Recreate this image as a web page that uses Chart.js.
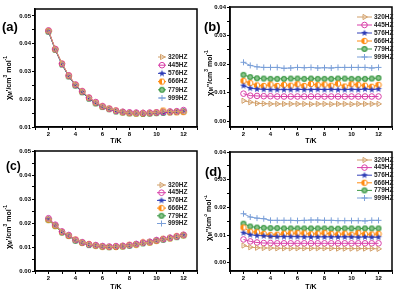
<!DOCTYPE html>
<html>
<head>
<meta charset="utf-8">
<script src="https://cdn.jsdelivr.net/npm/chart.js@4.4.0/dist/chart.umd.min.js"></script>
<style>
  body { margin: 0; background: #fff; width: 409px; height: 291px; overflow: hidden; position: relative; }
  canvas { position: absolute; }
</style>
</head>
<body>
<canvas id="pa" width="204" height="145" style="left:0;top:0"></canvas>
<canvas id="pb" width="205" height="145" style="left:204px;top:0"></canvas>
<canvas id="pc" width="204" height="146" style="left:0;top:145px"></canvas>
<canvas id="pd" width="205" height="146" style="left:204px;top:145px"></canvas>
<script>
// temperatures (K) and frequency labels
const temps = [2, 2.5, 3, 3.5, 4, 4.5, 5, 5.5, 6, 6.5, 7, 7.5, 8, 8.5, 9, 9.5, 10, 10.5, 11, 11.5, 12];
const freqs = ['320HZ', '445HZ', '576HZ', '666HZ', '779HZ', '999HZ'];

// (a) chi' 
const a320 = [0.0447,0.0381,0.0329,0.0285,0.0252,0.0228,0.0205,0.0188,0.0174,0.0166,0.0159,0.0154,0.0151,0.0150,0.0150,0.0151,0.0153,0.0158,0.0155,0.0156,0.0156];
const a445 = [0.0448,0.0381,0.0328,0.0286,0.0253,0.0229,0.0206,0.0190,0.0175,0.0166,0.0159,0.0155,0.0153,0.0152,0.0151,0.0152,0.0153,0.0154,0.0156,0.0157,0.0161];
const a576 = [0.0444,0.0379,0.0326,0.0283,0.0250,0.0226,0.0203,0.0186,0.0173,0.0165,0.0157,0.0154,0.0151,0.0150,0.0149,0.0150,0.0151,0.0152,0.0154,0.0155,0.0157];
const a666 = [0.0446,0.0380,0.0328,0.0285,0.0252,0.0228,0.0205,0.0188,0.0174,0.0166,0.0159,0.0153,0.0150,0.0149,0.0149,0.0150,0.0152,0.0159,0.0153,0.0153,0.0154];
const a779 = [0.0443,0.0378,0.0325,0.0282,0.0249,0.0225,0.0202,0.0185,0.0172,0.0164,0.0156,0.0152,0.0149,0.0148,0.0147,0.0148,0.0150,0.0151,0.0153,0.0154,0.0156];
const a999 = [0.0444,0.0379,0.0326,0.0283,0.0250,0.0226,0.0203,0.0186,0.0173,0.0165,0.0157,0.0153,0.0151,0.0150,0.0149,0.0149,0.0150,0.0151,0.0153,0.0155,0.0156];

// (b) chi''
const b320 = [0.0071,0.0066,0.0062,0.0061,0.0060,0.0060,0.0060,0.0060,0.0060,0.0060,0.0059,0.0060,0.0060,0.0059,0.0060,0.0060,0.0059,0.0060,0.0060,0.0060,0.0060];
const b445 = [0.0096,0.0089,0.0088,0.0087,0.0087,0.0086,0.0086,0.0086,0.0086,0.0086,0.0086,0.0086,0.0086,0.0086,0.0086,0.0086,0.0086,0.0086,0.0086,0.0086,0.0086];
const b576 = [0.0124,0.0115,0.0112,0.0111,0.0110,0.0110,0.0110,0.0110,0.0111,0.0110,0.0110,0.0111,0.0110,0.0111,0.0110,0.0110,0.0111,0.0110,0.0112,0.0110,0.0112];
const b666 = [0.0141,0.0133,0.0125,0.0123,0.0128,0.0123,0.0127,0.0124,0.0129,0.0123,0.0130,0.0126,0.0128,0.0124,0.0131,0.0121,0.0129,0.0127,0.0124,0.0120,0.0127];
const b779 = [0.0162,0.0154,0.0150,0.0149,0.0148,0.0148,0.0148,0.0149,0.0149,0.0148,0.0149,0.0148,0.0148,0.0148,0.0149,0.0149,0.0148,0.0148,0.0148,0.0149,0.0151];
const b999 = [0.0206,0.0195,0.0190,0.0188,0.0188,0.0188,0.0185,0.0186,0.0188,0.0187,0.0188,0.0186,0.0187,0.0186,0.0188,0.0188,0.0188,0.0188,0.0188,0.0186,0.0188];

// (c) chi'
const c320 = [0.0216,0.0190,0.0164,0.0149,0.0129,0.0120,0.0111,0.0107,0.0103,0.0101,0.0103,0.0104,0.0106,0.0112,0.0116,0.0121,0.0127,0.0133,0.0138,0.0143,0.0150];
const c445 = [0.0220,0.0193,0.0165,0.0150,0.0130,0.0120,0.0111,0.0108,0.0104,0.0102,0.0104,0.0105,0.0108,0.0113,0.0118,0.0122,0.0129,0.0133,0.0139,0.0144,0.0151];
const c576 = [0.0217,0.0191,0.0163,0.0148,0.0128,0.0119,0.0110,0.0107,0.0103,0.0101,0.0102,0.0104,0.0107,0.0112,0.0117,0.0121,0.0128,0.0132,0.0138,0.0143,0.0150];
const c666 = [0.0214,0.0189,0.0162,0.0147,0.0131,0.0118,0.0112,0.0106,0.0102,0.0100,0.0101,0.0103,0.0109,0.0110,0.0119,0.0119,0.0126,0.0134,0.0136,0.0145,0.0149];
const c779 = [0.0212,0.0187,0.0160,0.0146,0.0126,0.0117,0.0108,0.0105,0.0101,0.0099,0.0100,0.0102,0.0105,0.0110,0.0115,0.0119,0.0126,0.0130,0.0136,0.0141,0.0148];
const c999 = [0.0215,0.0190,0.0162,0.0147,0.0127,0.0118,0.0109,0.0106,0.0102,0.0100,0.0101,0.0103,0.0106,0.0111,0.0116,0.0120,0.0127,0.0131,0.0137,0.0142,0.0149];

// (d) chi''
const d320 = [0.0062,0.0056,0.0054,0.0053,0.0053,0.0052,0.0052,0.0052,0.0052,0.0052,0.0052,0.0052,0.0052,0.0052,0.0051,0.0051,0.0051,0.0051,0.0051,0.0051,0.0050];
const d445 = [0.0084,0.0077,0.0073,0.0071,0.0071,0.0070,0.0070,0.0070,0.0070,0.0070,0.0070,0.0070,0.0070,0.0070,0.0070,0.0070,0.0070,0.0070,0.0070,0.0070,0.0070];
const d576 = [0.0108,0.0101,0.0098,0.0097,0.0095,0.0094,0.0094,0.0094,0.0094,0.0093,0.0093,0.0093,0.0093,0.0093,0.0093,0.0093,0.0093,0.0092,0.0093,0.0092,0.0092];
const d666 = [0.0127,0.0112,0.0110,0.0104,0.0100,0.0101,0.0105,0.0106,0.0107,0.0106,0.0103,0.0105,0.0107,0.0104,0.0102,0.0105,0.0101,0.0107,0.0103,0.0102,0.0104];
const d779 = [0.0141,0.0131,0.0127,0.0126,0.0125,0.0125,0.0124,0.0124,0.0124,0.0124,0.0124,0.0124,0.0124,0.0123,0.0123,0.0124,0.0124,0.0123,0.0124,0.0124,0.0124];
const d999 = [0.0177,0.0165,0.0161,0.0159,0.0153,0.0153,0.0153,0.0153,0.0152,0.0153,0.0154,0.0154,0.0153,0.0153,0.0152,0.0152,0.0152,0.0152,0.0151,0.0153,0.0153];

// axis ticks (labels only on the major ones)
const xTicks = [1, 2, 3, 4, 5, 6, 7, 8, 9, 10, 11, 12, 13];
const yTicksA = [0.01, 0.015, 0.02, 0.025, 0.03, 0.035, 0.04, 0.045, 0.05];
const yTicksB = [0, 0.005, 0.01, 0.015, 0.02, 0.025, 0.03, 0.035, 0.04];
const yTicksC = [0, 0.005, 0.01, 0.015, 0.02, 0.025, 0.03, 0.035, 0.04, 0.045, 0.05];

const FONT = '"Liberation Sans", Arial, sans-serif';

// custom marker images
function markerCanvas(size, draw) {
  const c = document.createElement('canvas');
  c.width = size; c.height = size;
  draw(c.getContext('2d'), size / 2);
  return c;
}
const starImg = markerCanvas(8, (g, m) => {
  g.beginPath();
  for (let i = 0; i < 10; i++) {
    const r = i % 2 ? 1.4 : 3.6;
    const ang = -Math.PI / 2 + i * Math.PI / 5;
    g.lineTo(m + r * Math.cos(ang), m + r * Math.sin(ang));
  }
  g.closePath();
  g.fillStyle = '#2b3ab5'; g.fill();
});
const halfImg = markerCanvas(8, (g, m) => {
  g.beginPath(); g.arc(m, m, 2.8, 0, Math.PI * 2); g.fillStyle = '#fff'; g.fill();
  g.beginPath(); g.arc(m, m, 2.8, Math.PI / 2, Math.PI * 1.5); g.closePath(); g.fillStyle = '#ff8a10'; g.fill();
  g.beginPath(); g.arc(m, m, 2.8, 0, Math.PI * 2); g.strokeStyle = '#ff8a10'; g.lineWidth = 1; g.stroke();
});
const greenImg = markerCanvas(8, (g, m) => {
  g.beginPath(); g.arc(m, m, 3, 0, Math.PI * 2); g.fillStyle = '#3f9a48'; g.fill();
  g.strokeStyle = '#b9e0b9'; g.lineWidth = 0.8;
  g.beginPath(); g.moveTo(m - 2, m); g.lineTo(m + 2, m); g.moveTo(m, m - 2); g.lineTo(m, m + 2); g.stroke();
});

const styles = [
  { color: '#d2a06a', pointStyle: 'triangle', rotation: 90, radius: 3, fill: 'rgba(255,255,255,0)' },
  { color: '#d83fa8', pointStyle: 'circle', rotation: 0, radius: 2.8, fill: 'rgba(255,255,255,0)' },
  { color: '#3341b8', pointStyle: starImg, rotation: 0, radius: 3, fill: '#3341b8' },
  { color: '#ff8a10', pointStyle: halfImg, rotation: 0, radius: 3, fill: '#ff8a10' },
  { color: '#3f9a48', pointStyle: greenImg, rotation: 0, radius: 3, fill: '#3f9a48' },
  { color: '#7a9fd8', pointStyle: 'cross', rotation: 0, radius: 3, fill: '#7a9fd8' }
];

function drawRich(ctx, parts, x, y) {
  ctx.save();
  ctx.translate(x, y);
  ctx.rotate(-Math.PI / 2);
  let w = 0;
  parts.forEach(p => { ctx.font = 'bold ' + p[1] + 'px ' + FONT; w += ctx.measureText(p[0]).width; });
  let cx = -w / 2;
  ctx.textBaseline = 'middle';
  parts.forEach(p => {
    ctx.font = 'bold ' + p[1] + 'px ' + FONT;
    ctx.fillText(p[0], cx, p[2]);
    cx += ctx.measureText(p[0]).width;
  });
  ctx.restore();
}

const decoPlugin = {
  id: 'deco',
  afterDraw(chart, args, o) {
    const ctx = chart.ctx, a = chart.chartArea;
    ctx.save();
    ctx.strokeStyle = '#000'; ctx.lineWidth = 1.5;
    ctx.strokeRect(a.left, a.top, a.right - a.left, a.bottom - a.top);
    ctx.fillStyle = '#000';
    ctx.font = 'bold ' + o.tagSize + 'px ' + FONT;
    ctx.textBaseline = 'alphabetic';
    ctx.fillText(o.tag, o.tagX, o.tagY);
    const prime = o.double ? "''" : "'";
    drawRich(ctx, [['χ', 8, 0], ['M', 5, 2], [prime, 7, 0], ['/cm', 7, 0], ['3', 5, -3], [' mol', 7, 0], ['-1', 5, -3]], o.titleX, o.titleY);
    // legend
    chart.data.datasets.forEach((ds, i) => {
      const y = o.legY + i * o.legGap;
      ctx.strokeStyle = ds.borderColor; ctx.lineWidth = 1;
      ctx.beginPath(); ctx.moveTo(o.legX, y); ctx.lineTo(o.legX + o.legLen, y); ctx.stroke();
      ctx.fillStyle = ds.pointBackgroundColor; ctx.strokeStyle = ds.pointBorderColor;
      Chart.helpers.drawPoint(ctx, { pointStyle: ds.pointStyle, rotation: ds.pointRotation, radius: ds.pointRadius, borderWidth: 1 }, o.legX + o.legLen / 2, y);
      ctx.fillStyle = '#222';
      ctx.font = 'bold 6.5px ' + FONT;
      ctx.textBaseline = 'middle';
      ctx.fillText(freqs[i], o.legX + o.legLen + 2, y);
    });
    ctx.restore();
  }
};

function buildPanel(id, series, yMin, yMax, yTicks, lay, deco) {
  const datasets = series.map((vals, i) => ({
    label: freqs[i],
    data: temps.map((t, k) => ({ x: t, y: vals[k] })),
    borderColor: styles[i].color,
    borderWidth: 1,
    pointStyle: styles[i].pointStyle,
    pointRotation: styles[i].rotation,
    pointRadius: styles[i].radius,
    pointBorderColor: styles[i].color,
    pointBackgroundColor: styles[i].fill,
    pointBorderWidth: 1,
    tension: 0
  }));
  new Chart(document.getElementById(id).getContext('2d'), {
    type: 'line',
    data: { datasets: datasets },
    options: {
      responsive: false,
      animation: false,
      devicePixelRatio: 1,
      layout: { padding: { left: 0, top: lay.top, right: lay.right, bottom: 0 } },
      plugins: { legend: { display: false }, tooltip: { enabled: false }, deco: deco },
      scales: {
        x: {
          type: 'linear', min: 1, max: 13,
          afterBuildTicks: s => { s.ticks = xTicks.map(v => ({ value: v })); },
          afterFit: s => { s.height = lay.xh; },
          ticks: { autoSkip: false, maxRotation: 0, padding: 1, color: '#000',
                   font: { family: FONT, size: 6, weight: 'bold' },
                   callback: v => (v % 2 === 0 ? String(v) : '') },
          grid: { drawOnChartArea: false, drawTicks: true, tickLength: 3, color: '#000' },
          border: { color: '#000', width: 1.5 },
          title: { display: true, text: 'T/K', color: '#000', padding: 0,
                   font: { family: FONT, size: 7, weight: 'bold' } }
        },
        y: {
          min: yMin, max: yMax,
          afterBuildTicks: s => { s.ticks = yTicks.map(v => ({ value: v })); },
          afterFit: s => { s.width = lay.yw; },
          ticks: { autoSkip: false, padding: 1, color: '#000',
                   font: { family: FONT, size: 6, weight: 'bold' },
                   callback: v => (Math.abs(v * 100 - Math.round(v * 100)) < 1e-6 ? v.toFixed(2) : '') },
          grid: { drawOnChartArea: false, drawTicks: true, tickLength: 3, color: '#000' },
          border: { color: '#000', width: 1.5 }
        }
      }
    },
    plugins: [decoPlugin]
  });
}

buildPanel('pa', [a320, a445, a576, a666, a779, a999], 0.01, 0.0525, yTicksA,
  { top: 9, right: 7, xh: 18, yw: 35 },
  { tag: '(a)', tagSize: 13, tagX: 2, tagY: 31, double: false, titleX: 9, titleY: 78,
    legX: 158, legY: 57, legGap: 8.2, legLen: 8 });
buildPanel('pb', [b320, b445, b576, b666, b779, b999], -0.0021, 0.04, yTicksB,
  { top: 7, right: 17, xh: 18, yw: 26 },
  { tag: '(b)', tagSize: 13, tagX: 0, tagY: 31, double: true, titleX: 6, titleY: 73,
    legX: 153, legY: 17, legGap: 8, legLen: 15 });
buildPanel('pc', [c320, c445, c576, c666, c779, c999], 0, 0.05, yTicksC,
  { top: 6, right: 7, xh: 20, yw: 35 },
  { tag: '(c)', tagSize: 12, tagX: 6, tagY: 25, double: false, titleX: 9, titleY: 82,
    legX: 157, legY: 40, legGap: 7.7, legLen: 9 });
buildPanel('pd', [d320, d445, d576, d666, d779, d999], -0.003, 0.04, yTicksB,
  { top: 7, right: 17, xh: 20, yw: 26 },
  { tag: '(d)', tagSize: 13, tagX: 1, tagY: 31, double: true, titleX: 5, titleY: 73,
    legX: 153, legY: 15, legGap: 7.6, legLen: 15 });
</script>
</body>
</html>
